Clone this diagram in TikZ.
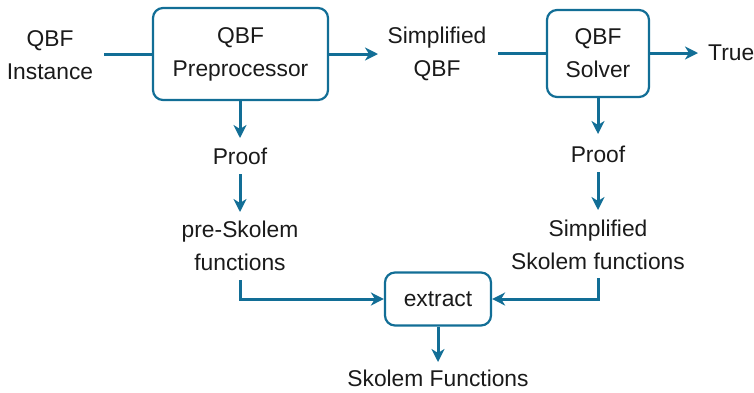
\documentclass[tikz,border=0pt]{standalone}
\usepackage{fontspec}
\setmainfont{Liberation Sans}
\usetikzlibrary{arrows.meta}
\definecolor{flow}{RGB}{18,110,150}
\definecolor{ink}{RGB}{26,26,26}
\begin{document}
\begin{tikzpicture}[x=1pt,y=-1pt,
  every node/.style={text=ink,font=\fontsize{22.8}{33}\selectfont,align=center,inner sep=0pt},
  procbox/.style={draw=flow,line width=2.2pt,rounded corners=10pt},
  conn/.style={draw=flow,line width=3pt},
  arr/.style={conn,-{Stealth[length=13pt,width=13pt,inset=4pt]}}]
\useasboundingbox (0,0) rectangle (754,392);
\node (inst) at (50,55) {QBF\\Instance};
\node[procbox,minimum width=175pt,minimum height=92pt] (pre) at (240.5,54) {QBF\\Preprocessor};
\node (simp) at (437,54) {Simplified\\QBF};
\node[procbox,minimum width=102pt,minimum height=87pt] (sol) at (598,53.5) {QBF\\Solver};
\node[anchor=west] (true) at (708,53) {True};
\node (proof1) at (240,156) {Proof};
\node (pres) at (240,246) {pre-Skolem\\functions};
\node (proof2) at (598,154) {Proof};
\node (simps) at (598,245) {Simplified\\Skolem functions};
\node[procbox,minimum width=106pt,minimum height=53pt] (ext) at (438,299) {extract};
\node (sk) at (438,378.5) {Skolem Functions};
\coordinate (a1) at (104,54);
\coordinate (a2) at (498,53);
\draw[conn] (a1) -- (pre.west|-a1);
\draw[arr] (pre.east|-a1) -- (378,54);
\draw[conn] (a2) -- (sol.west|-a2);
\draw[arr] (sol.east|-a2) -- (698,53);
\draw[arr] (pre.south-|proof1) -- (240,138);
\draw[arr] (240,174) -- (240,212);
\draw[arr] (sol.south-|proof2) -- (598,134);
\draw[arr] (598,172) -- (598,210);
\draw[arr] (240,280) |- (ext.west);
\draw[arr] (598,278) |- (ext.east);
\draw[arr] (ext.south) -- (438,362);
\end{tikzpicture}
\end{document}
